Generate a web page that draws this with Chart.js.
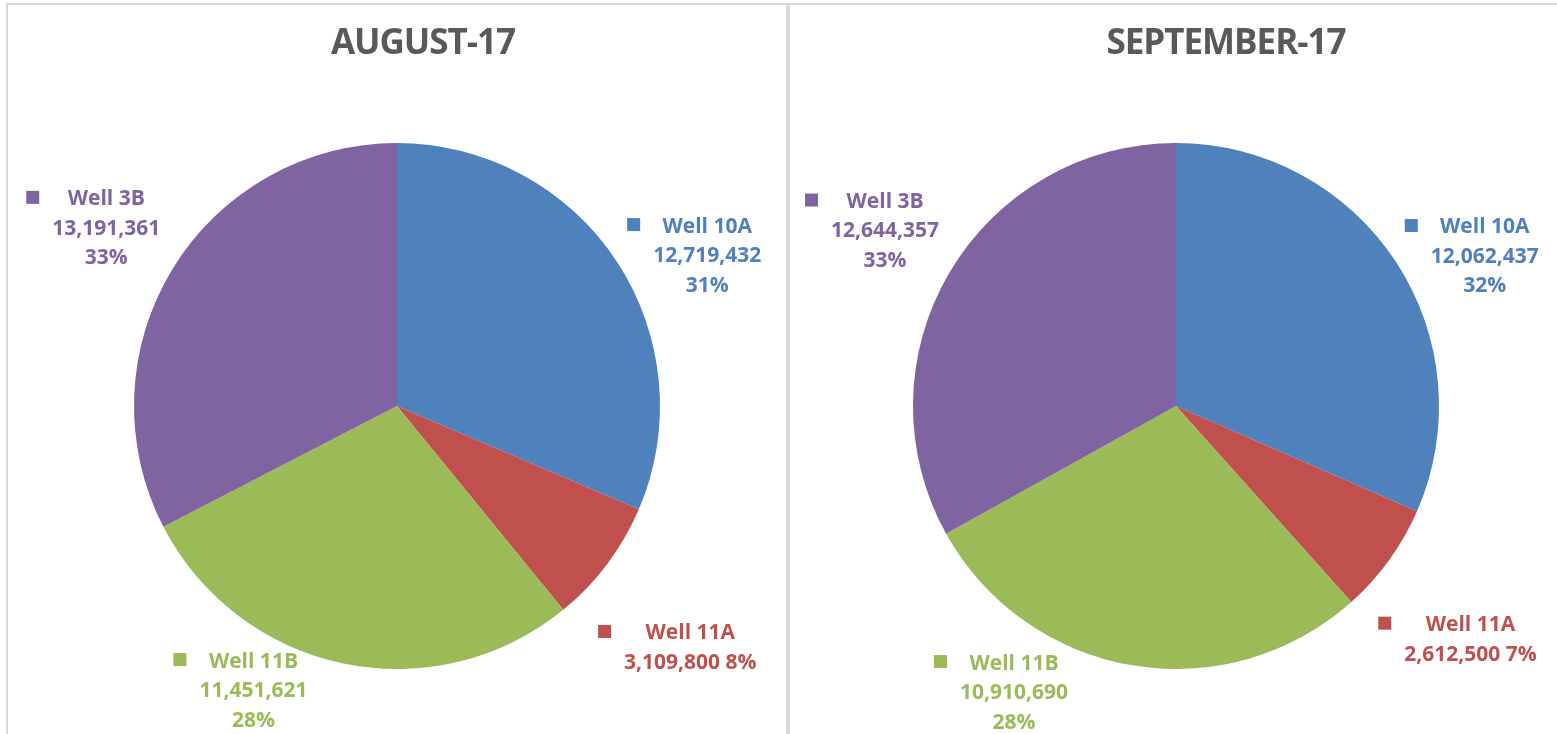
<!DOCTYPE html>
<html>
<head>
<meta charset="utf-8">
<script src="https://cdn.jsdelivr.net/npm/chart.js@4/dist/chart.umd.min.js"></script>
<style>
  html, body { margin: 0; padding: 0; background: #fff; overflow: hidden; width: 1557px; height: 734px; }
  .box { position: absolute; top: 3px; border: 2px solid #d9d9d9; height: 760px; }
  #boxAug { left: 6px; width: 778px; }
  #boxSep { left: 788px; width: 772px; }
  canvas { display: block; }
</style>
</head>
<body>
<div class="box" id="boxAug"><canvas id="chartAug" width="778" height="729"></canvas></div>
<div class="box" id="boxSep"><canvas id="chartSep" width="772" height="729"></canvas></div>
<script>
const months = ['AUGUST-17', 'SEPTEMBER-17'];
const wells = ['Well 10A', 'Well 11A', 'Well 11B', 'Well 3B'];
const augValues = [12719432, 3109800, 11451621, 13191361];
const sepValues = [12062437, 2612500, 10910690, 12644357];
const augPct = [31, 8, 28, 33];
const sepPct = [32, 7, 28, 33];
const wellColors = ['#4f81bd', '#c0504d', '#9bbb59', '#8064a2'];

const FONT = '"Open Sans", "Liberation Sans", sans-serif';

function _fmt(n) {
  return n.toLocaleString('en-US');
}

// chart title, drawn by hand so it can sit a bit off the pie's centre like the Excel original
const sheetTitle = {
  id: 'sheetTitle',
  afterDraw(chart, args, opts) {
    const ctx = chart.ctx;
    ctx.save();
    ctx.font = 'bold 35px ' + FONT;
    ctx.letterSpacing = '-1px';
    ctx.fillStyle = '#595959';
    ctx.textAlign = 'center';
    ctx.textBaseline = 'alphabetic';
    ctx.fillText(opts.text, chart.width / 2 + (opts.dx || 0), 49);
    ctx.restore();
  }
};

// Excel-like data labels outside each slice: square key + name, value, percent
const outsideLabels = {
  id: 'outsideLabels',
  afterDatasetsDraw(chart, args, opts) {
    const ctx = chart.ctx;
    const ds = chart.data.datasets[0];
    const meta = chart.getDatasetMeta(0);
    const gap = opts.gap || 20;
    const lh = 29.5;
    ctx.save();
    ctx.font = 'bold 21px ' + FONT;
    ctx.textBaseline = 'middle';
    meta.data.forEach((arc, i) => {
      const p = arc.getProps(['x', 'y', 'startAngle', 'endAngle', 'outerRadius'], true);
      const mid = (p.startAngle + p.endAngle) / 2;
      const px = p.x + (p.outerRadius + gap) * Math.cos(mid) + (opts.dx ? opts.dx[i] : 0);
      const py = p.y + (p.outerRadius + gap) * Math.sin(mid) + (opts.dy ? opts.dy[i] : 0);
      const val = _fmt(ds.data[i]);
      const pct = ds.pct[i] + '%';
      const lines = [chart.data.labels[i]];
      if ((val + ' ' + pct).length <= 12) lines.push(val + ' ' + pct);
      else { lines.push(val); lines.push(pct); }
      const colW = Math.max(...lines.map(l => ctx.measureText(l).width));
      const sq = 13, sqGap = 13;
      const blockW = sq + sqGap + colW;
      const h = lines.length * lh;
      const left = Math.cos(mid) >= 0 ? px : px - blockW;
      const top = py - h / 2;
      const colX = left + sq + sqGap;
      ctx.fillStyle = ds.backgroundColor[i];
      ctx.fillRect(left, top + lh / 2 - sq / 2 - 2, sq, sq);
      ctx.textAlign = 'center';
      lines.forEach((l, k) => ctx.fillText(l, colX + colW / 2, top + lh / 2 + k * lh));
    });
    ctx.restore();
  }
};

function makePie(id, title, values, pct, titleDx, dx, dy) {
  const el = document.getElementById(id);
  return new Chart(el.getContext('2d'), {
    type: 'pie',
    data: {
      labels: wells,
      datasets: [{ data: values, pct: pct, backgroundColor: wellColors, borderWidth: 0 }]
    },
    options: {
      responsive: false,
      animation: false,
      layout: { padding: { top: 138, bottom: 65, left: 0, right: 0 } },
      plugins: {
        legend: { display: false },
        tooltip: { enabled: false },
        title: { display: false },
        sheetTitle: { text: title, dx: titleDx },
        outsideLabels: { gap: 20, dx: dx, dy: dy }
      }
    },
    plugins: [outsideLabels, sheetTitle]
  });
}

makePie('chartAug', months[0], augValues, augPct, 26, [-6, -25, -32, 5], [6, 72, 8, -30]);
makePie('chartSep', months[1], sepValues, sepPct, 50, [-8, -27, -61, 7], [6, 68, 8, -31]);
</script>
</body>
</html>
